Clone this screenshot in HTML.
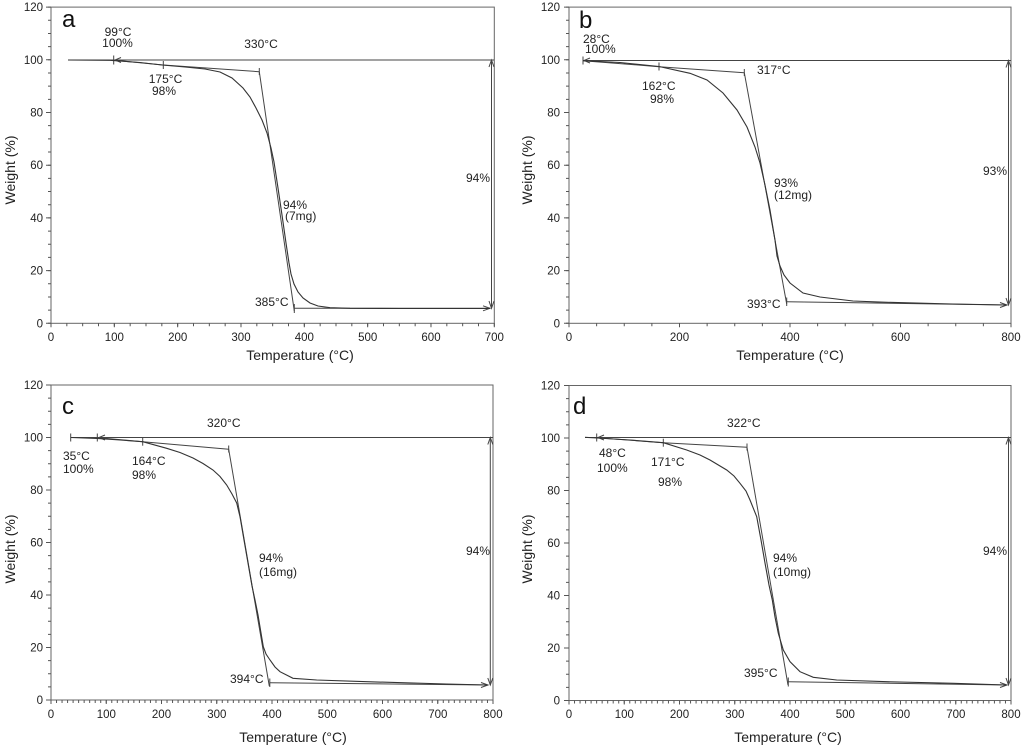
<!DOCTYPE html>
<html><head><meta charset="utf-8"><style>
html,body{margin:0;padding:0;background:#fff;}
svg{display:block;font-family:"Liberation Sans",Arial,sans-serif;}
.ln{fill:none;stroke:#444;stroke-width:1;}
.cv{fill:none;stroke:#333;stroke-width:1.1;}
.fr{fill:none;stroke:#666;stroke-width:1;}
.tk{stroke:#555;fill:none;}
.tl{font-size:11.5px;fill:#222;}
.an{font-size:12px;fill:#222;}
.at{font-size:14px;fill:#222;}
.pl{font-size:24px;fill:#111;}
</style></head><body>
<svg width="1024" height="747" viewBox="0 0 1024 747" xmlns="http://www.w3.org/2000/svg">
<rect width="1024" height="747" fill="#fff"/>

<!-- ================= PANEL A ================= -->
<rect class="fr" x="51" y="7.1" width="443.3" height="316.2"/>
<line class="tk" x1="49.5" y1="323.8" x2="49.5" y2="6.6" stroke-width="3" stroke-dasharray="1 12.175"/>
<line class="tk" x1="48.5" y1="323.8" x2="48.5" y2="6.6" stroke-width="5" stroke-dasharray="1 51.7"/>
<line class="tk" x1="50.5" y1="324.8" x2="495" y2="324.8" stroke-width="3" stroke-dasharray="1 14.833"/>
<line class="tk" x1="50.5" y1="325.3" x2="495" y2="325.3" stroke-width="4" stroke-dasharray="1 62.33"/>
<g class="tl" text-anchor="end">
<text x="43" y="327.3">0</text><text x="43" y="274.6">20</text><text x="43" y="221.9">40</text><text x="43" y="169.2">60</text><text x="43" y="116.5">80</text><text x="43" y="63.8">100</text><text x="43" y="11.1">120</text>
</g>
<g class="tl" text-anchor="middle">
<text x="51" y="341">0</text><text x="114.3" y="341">100</text><text x="177.7" y="341">200</text><text x="241" y="341">300</text><text x="304.3" y="341">400</text><text x="367.7" y="341">500</text><text x="431" y="341">600</text><text x="494.3" y="341">700</text>
</g>
<text class="at" text-anchor="middle" x="300" y="360">Temperature (°C)</text>
<text class="at" text-anchor="middle" transform="translate(15,170) rotate(-90)">Weight (%)</text>
<text class="pl" x="62" y="27">a</text>

<line class="ln" x1="68" y1="60" x2="494" y2="60"/>
<line class="ln" x1="113.7" y1="55.5" x2="113.7" y2="64.5"/>
<polyline class="ln" points="121,57.5 115,60 121,62.5"/>
<line class="ln" x1="114" y1="60.2" x2="163.3" y2="65"/>
<line class="ln" x1="163.3" y1="61" x2="163.3" y2="69"/>
<line class="ln" x1="163.3" y1="65" x2="259.3" y2="71.7"/>
<line class="ln" x1="259.3" y1="68" x2="259.3" y2="75"/>
<line class="ln" x1="259.3" y1="71.7" x2="294.3" y2="311"/>
<line class="ln" x1="294.3" y1="304" x2="294.3" y2="313"/>
<line class="ln" x1="294.3" y1="308.3" x2="490" y2="308.3"/>
<polyline class="ln" points="483,305.8 490,308.3 483,310.8"/>
<line class="ln" x1="491.5" y1="60" x2="491.5" y2="308.3"/>
<polyline class="ln" points="489,67 491.5,60 494,67"/>
<polyline class="ln" points="489,301 491.5,308.3 494,301"/>
<path class="cv" d="M68,60 L110,60.3 L140,62.5 L162,65 L185,67 L205,69 L220,72 L232,78 L243,88 L250,97 L256,108 L262,120 L267,133 L271,148 L274,162 L278,188 L282,215 L286,243 L289,263 L291,274 L294,284 L298,292 L303,298 L310,303 L318,306 L330,307.7 L350,308.3 L400,308.5 L490,308.5"/>
<g class="an">
<text x="118" y="36" text-anchor="middle">99°C</text>
<text x="117.5" y="47" text-anchor="middle">100%</text>
<text x="261" y="48" text-anchor="middle">330°C</text>
<text x="165.5" y="83" text-anchor="middle">175°C</text>
<text x="164" y="95" text-anchor="middle">98%</text>
<text x="283" y="209">94%</text>
<text x="285" y="220">(7mg)</text>
<text x="255" y="306">385°C</text>
<text x="466" y="182">94%</text>
</g>

<!-- ================= PANEL B ================= -->
<rect class="fr" x="569" y="7.1" width="442" height="316.2"/>
<line class="tk" x1="567.5" y1="323.8" x2="567.5" y2="6.6" stroke-width="3" stroke-dasharray="1 12.175"/>
<line class="tk" x1="566.5" y1="323.8" x2="566.5" y2="6.6" stroke-width="5" stroke-dasharray="1 51.7"/>
<line class="tk" x1="568.5" y1="324.8" x2="1012" y2="324.8" stroke-width="3" stroke-dasharray="1 26.625"/>
<line class="tk" x1="568.5" y1="325.3" x2="1012" y2="325.3" stroke-width="4" stroke-dasharray="1 109.5"/>
<g class="tl" text-anchor="end">
<text x="560" y="327.3">0</text><text x="560" y="274.6">20</text><text x="560" y="221.9">40</text><text x="560" y="169.2">60</text><text x="560" y="116.5">80</text><text x="560" y="63.8">100</text><text x="560" y="11.1">120</text>
</g>
<g class="tl" text-anchor="middle">
<text x="569" y="341">0</text><text x="679.5" y="341">200</text><text x="790" y="341">400</text><text x="900.5" y="341">600</text><text x="1011" y="341">800</text>
</g>
<text class="at" text-anchor="middle" x="790" y="360">Temperature (°C)</text>
<text class="at" text-anchor="middle" transform="translate(532,170) rotate(-90)">Weight (%)</text>
<text class="pl" x="579" y="28">b</text>

<line class="ln" x1="583" y1="60.5" x2="1011" y2="60.5"/>
<line class="ln" x1="583" y1="56.5" x2="583" y2="64.5"/>
<polyline class="ln" points="590,58 584,60.5 590,63"/>
<line class="ln" x1="583" y1="60.7" x2="659" y2="66.7"/>
<line class="ln" x1="659" y1="62.5" x2="659" y2="70.5"/>
<line class="ln" x1="659" y1="66.7" x2="744.3" y2="72.7"/>
<line class="ln" x1="744.3" y1="69" x2="744.3" y2="76"/>
<line class="ln" x1="744.3" y1="72.7" x2="786.7" y2="304"/>
<line class="ln" x1="786.7" y1="297.5" x2="786.7" y2="306"/>
<line class="ln" x1="786.7" y1="301.7" x2="1006.7" y2="305"/>
<polyline class="ln" points="1000,302.5 1007,305 1000,307.5"/>
<line class="ln" x1="1008.5" y1="60.5" x2="1008.5" y2="305"/>
<polyline class="ln" points="1006,67.5 1008.5,60.5 1011,67.5"/>
<polyline class="ln" points="1006,298 1008.5,305 1011,298"/>
<path class="cv" d="M583,60.7 L620,62.5 L659,66.5 L690,73.3 L707,80 L723,93 L737,110 L747,127 L755,147 L760,163 L765,185 L770,210 L773,228 L775,240 L777,256 L780,266 L784,275 L790,283 L803,293 L820,297 L853,301 L887,302.3 L953,304 L1007,305"/>
<g class="an">
<text x="583" y="43">28°C</text>
<text x="585" y="53">100%</text>
<text x="757" y="74">317°C</text>
<text x="642" y="90">162°C</text>
<text x="650" y="103">98%</text>
<text x="774" y="187">93%</text>
<text x="774" y="199">(12mg)</text>
<text x="747" y="308">393°C</text>
<text x="983" y="175">93%</text>
</g>

<!-- ================= PANEL C ================= -->
<rect class="fr" x="51" y="385" width="442" height="315"/>
<line class="tk" x1="49.5" y1="700.5" x2="49.5" y2="384.5" stroke-width="3" stroke-dasharray="1 12.125"/>
<line class="tk" x1="48.5" y1="700.5" x2="48.5" y2="384.5" stroke-width="5" stroke-dasharray="1 51.5"/>
<line class="tk" x1="50.5" y1="701.5" x2="494" y2="701.5" stroke-width="3" stroke-dasharray="1 4.525"/>
<line class="tk" x1="50.5" y1="702" x2="494" y2="702" stroke-width="4" stroke-dasharray="1 54.25"/>
<g class="tl" text-anchor="end">
<text x="43" y="704">0</text><text x="43" y="651.5">20</text><text x="43" y="599">40</text><text x="43" y="546.5">60</text><text x="43" y="494">80</text><text x="43" y="441.5">100</text><text x="43" y="389">120</text>
</g>
<g class="tl" text-anchor="middle">
<text x="51" y="718">0</text><text x="106.3" y="718">100</text><text x="161.5" y="718">200</text><text x="216.8" y="718">300</text><text x="272" y="718">400</text><text x="327.3" y="718">500</text><text x="382.5" y="718">600</text><text x="437.8" y="718">700</text><text x="493" y="718">800</text>
</g>
<text class="at" text-anchor="middle" x="293" y="742">Temperature (°C)</text>
<text class="at" text-anchor="middle" transform="translate(15,549) rotate(-90)">Weight (%)</text>
<text class="pl" x="62" y="414">c</text>

<line class="ln" x1="70.7" y1="437.5" x2="493" y2="437.5"/>
<line class="ln" x1="70.7" y1="433.5" x2="70.7" y2="441.5"/>
<line class="ln" x1="97.3" y1="433.5" x2="97.3" y2="441.5"/>
<polyline class="ln" points="105,435 99,437.5 105,440"/>
<line class="ln" x1="97.3" y1="437.6" x2="142.7" y2="441.7"/>
<line class="ln" x1="142.7" y1="437.7" x2="142.7" y2="445.7"/>
<line class="ln" x1="142.7" y1="441.7" x2="228.7" y2="449.3"/>
<line class="ln" x1="228.7" y1="445.5" x2="228.7" y2="452.5"/>
<line class="ln" x1="228.7" y1="449.3" x2="269.3" y2="686"/>
<line class="ln" x1="269.8" y1="678.5" x2="269.8" y2="687"/>
<line class="ln" x1="270" y1="682.7" x2="488" y2="685"/>
<polyline class="ln" points="481,682.5 488,685 481,687.5"/>
<line class="ln" x1="490.3" y1="437.5" x2="490.3" y2="685"/>
<polyline class="ln" points="487.8,444.5 490.3,437.5 492.8,444.5"/>
<polyline class="ln" points="487.8,678 490.3,685 492.8,678"/>
<path class="cv" d="M70.7,437.5 L97,438.5 L120,440 L142.7,441.7 L166.7,448.3 L180,452.5 L193,458 L203,463.5 L213,470 L220,476.5 L226.7,485 L232,494 L236.7,503 L240,516.7 L244,540 L248,563 L252,586 L255,600 L258,615 L261,633 L263.3,646.7 L266,654 L270,660 L275,667 L280,671.7 L293,678.3 L316.7,680 L366.7,681.7 L446.7,684 L488,685"/>
<g class="an">
<text x="63" y="460">35°C</text>
<text x="63" y="473">100%</text>
<text x="132" y="465">164°C</text>
<text x="132" y="479">98%</text>
<text x="207" y="427">320°C</text>
<text x="259" y="562">94%</text>
<text x="259" y="576">(16mg)</text>
<text x="230" y="683">394°C</text>
<text x="466" y="555">94%</text>
</g>

<!-- ================= PANEL D ================= -->
<rect class="fr" x="569" y="385.5" width="442" height="315"/>
<line class="tk" x1="567.5" y1="701" x2="567.5" y2="385" stroke-width="3" stroke-dasharray="1 12.125"/>
<line class="tk" x1="566.5" y1="701" x2="566.5" y2="385" stroke-width="5" stroke-dasharray="1 51.5"/>
<line class="tk" x1="568.5" y1="702" x2="1012" y2="702" stroke-width="3" stroke-dasharray="1 4.525"/>
<line class="tk" x1="568.5" y1="702.5" x2="1012" y2="702.5" stroke-width="4" stroke-dasharray="1 54.25"/>
<g class="tl" text-anchor="end">
<text x="560" y="704.5">0</text><text x="560" y="652">20</text><text x="560" y="599.5">40</text><text x="560" y="547">60</text><text x="560" y="494.5">80</text><text x="560" y="442">100</text><text x="560" y="389.5">120</text>
</g>
<g class="tl" text-anchor="middle">
<text x="569" y="718">0</text><text x="624.3" y="718">100</text><text x="679.5" y="718">200</text><text x="734.8" y="718">300</text><text x="790" y="718">400</text><text x="845.3" y="718">500</text><text x="900.5" y="718">600</text><text x="955.8" y="718">700</text><text x="1011" y="718">800</text>
</g>
<text class="at" text-anchor="middle" x="788" y="742">Temperature (°C)</text>
<text class="at" text-anchor="middle" transform="translate(532,549) rotate(-90)">Weight (%)</text>
<text class="pl" x="573" y="414">d</text>

<line class="ln" x1="585" y1="437.5" x2="1011" y2="437.5"/>
<line class="ln" x1="596.7" y1="433.5" x2="596.7" y2="441.5"/>
<polyline class="ln" points="604,435 598,437.5 604,440"/>
<line class="ln" x1="597" y1="437.8" x2="663.3" y2="442.7"/>
<line class="ln" x1="663.3" y1="438.7" x2="663.3" y2="446.7"/>
<line class="ln" x1="663.3" y1="442.7" x2="747" y2="447.3"/>
<line class="ln" x1="747" y1="443.5" x2="747" y2="450.5"/>
<line class="ln" x1="747" y1="447.3" x2="788" y2="685"/>
<line class="ln" x1="788.3" y1="677.5" x2="788.3" y2="686.5"/>
<line class="ln" x1="788.3" y1="681.7" x2="1006.7" y2="685"/>
<polyline class="ln" points="1000,682.5 1007,685 1000,687.5"/>
<line class="ln" x1="1008.5" y1="437.5" x2="1008.5" y2="685"/>
<polyline class="ln" points="1006,444.5 1008.5,437.5 1011,444.5"/>
<polyline class="ln" points="1006,678 1008.5,685 1011,678"/>
<path class="cv" d="M585,437.3 L597,438 L630,440 L663.3,442.7 L686.7,450 L700,455 L710,460 L726.7,470 L734,476 L740,483.3 L746,491 L750,500 L756.7,516.7 L761,540 L765,563 L769,585 L772.3,600 L775,617 L778.3,633.3 L783.3,650 L790,661.7 L800,671.7 L813.3,677.3 L836.7,680 L886.7,681.7 L953.3,683.3 L1006.7,685"/>
<g class="an">
<text x="599" y="457">48°C</text>
<text x="597" y="472">100%</text>
<text x="651" y="466">171°C</text>
<text x="658" y="486">98%</text>
<text x="727" y="427">322°C</text>
<text x="773" y="562">94%</text>
<text x="773" y="576">(10mg)</text>
<text x="744" y="677">395°C</text>
<text x="983" y="555">94%</text>
</g>
</svg>
</body></html>
